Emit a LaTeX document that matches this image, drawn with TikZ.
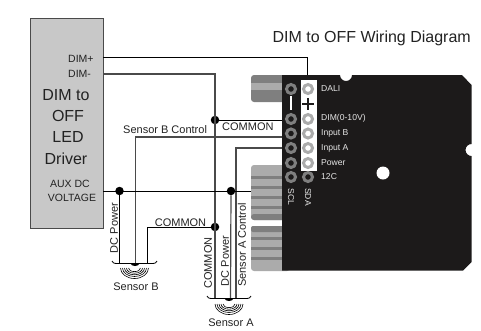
\documentclass[tikz,border=0pt]{standalone}
\usepackage{fontspec}
\setmainfont{Liberation Sans}
\definecolor{boxgray}{HTML}{C8C8C8}
\definecolor{stripedark}{HTML}{7F7F7F}
\definecolor{stripelight}{HTML}{ABABAB}
\definecolor{wiregray}{HTML}{4A4A4A}
\definecolor{txtgray}{HTML}{222222}
\definecolor{boardblack}{HTML}{1C1A1A}
\tikzset{
  wire/.style={draw=black,line width=0.9pt},
  graywire/.style={draw=wiregray,line width=1.2pt},
  joint/.style={circle,fill=black,inner sep=0pt,minimum size=8.5pt},
  label/.style={font=\fontsize{11}{11}\selectfont,text=txtgray,inner sep=0pt},
  biglabel/.style={font=\fontsize{16}{16}\selectfont,text=txtgray,inner sep=0pt},
  boxlabel/.style={font=\fontsize{10.5}{10.5}\selectfont,text=txtgray,inner sep=0pt},
  pinlabel/.style={font=\fontsize{8.6}{8.6}\selectfont,text=white!90!black,inner sep=0pt},
  padblack/.style={circle,draw=stripedark,line width=3pt,fill=boardblack,inner sep=0pt,minimum size=9pt},
  padwhite/.style={circle,draw=stripelight,line width=3pt,fill=white,inner sep=0pt,minimum size=9pt},
  stripe/.style={fill=stripedark,draw=none},
  sensorcup/.style={draw=black,line width=0.8pt},
  wave/.style={draw=black,line width=0.6pt}
}
\begin{document}
\begin{tikzpicture}[x=1pt,y=-1pt]
\useasboundingbox (0,0) rectangle (481,330);

% driver box
\node[draw=wiregray,line width=0.9pt,fill=boxgray,rectangle,minimum width=73pt,minimum height=210pt,inner sep=0pt] (driver) at (66.5,123.5) {};
\node[boxlabel,anchor=west] (dimplus) at (68,59) {DIM+};
\node[boxlabel,anchor=west] (dimminus) at (68,74) {DIM-};
\node[biglabel] (dimto) at (66,95) {DIM to};
\node[biglabel] (off) at (68,116) {OFF};
\node[biglabel] (led) at (68,137) {LED};
\node[biglabel] (drv) at (66,159) {Driver};
\node[boxlabel] (auxdc) at (70,184) {AUX DC};
\node[boxlabel] (voltage) at (72,198) {VOLTAGE};
\node[font=\fontsize{16}{16}\selectfont,text=txtgray,inner sep=0pt,anchor=east] (title) at (471,38) {DIM to OFF Wiring Diagram};

% connector blocks
\fill[stripedark,rounded corners=3pt] (251,75) rectangle (290,102);
\fill[stripelight] (251,83) rectangle (290,90);
\fill[stripelight,rounded corners=3pt] (251,165) rectangle (290,220);
\fill[stripe] (251,176) rectangle (290,178.5);
\fill[stripe] (251,186) rectangle (290,188.5);
\fill[stripe] (251,196) rectangle (290,199);
\fill[stripe] (251,206) rectangle (290,209);
\fill[stripedark,rounded corners=3pt] (251,214) rectangle (290,220);
\fill[stripelight,rounded corners=3pt] (251,226) rectangle (290,271);
\fill[stripedark,rounded corners=2pt] (251,226) rectangle (290,232);
\fill[stripe] (251,237) rectangle (290,240);
\fill[stripe] (251,247) rectangle (290,250);
\fill[stripe] (251,257) rectangle (290,260);

% board
\fill[boardblack] (282,75) -- (340,75) arc (180:0:6) -- (462,75) -- (471.5,85) -- (471.5,144) arc (270:90:6) -- (471.5,262) -- (463,270.5) -- (282,270.5) -- cycle;
\node[circle,fill=white,inner sep=0pt,minimum size=13pt] (hole) at (383,173) {};
\fill[white] (301,80) rectangle (317,171);
\draw[white,line width=1.6pt] (291,96) -- (291,110);
\draw[boardblack,line width=1.2pt] (308,98) -- (308,110);
\draw[boardblack,line width=1.2pt] (302,104) -- (314,104);

% pads
\node[padblack] (scl1) at (291,89) {};
\node[padblack] (scl2) at (291,119) {};
\node[padblack] (scl3) at (291,133.5) {};
\node[padblack] (scl4) at (291,148) {};
\node[padblack] (scl5) at (291,163) {};
\node[padblack] (scl6) at (291,177) {};
\node[padwhite] (sda1) at (308,89) {};
\node[padwhite] (sda2) at (308,119) {};
\node[padwhite] (sda3) at (308,133.5) {};
\node[padwhite] (sda4) at (308,148) {};
\node[padwhite] (sda5) at (308,163) {};
\node[padblack] (sda6) at (308,177) {};

% pin labels
\node[pinlabel,anchor=west] (dali) at (321,89) {DALI};
\node[pinlabel,anchor=west] (dimten) at (321,118) {DIM(0-10V)};
\node[pinlabel,anchor=west] (inb) at (321,133) {Input B};
\node[pinlabel,anchor=west] (ina) at (321,148) {Input A};
\node[pinlabel,anchor=west] (power) at (321,163) {Power};
\node[pinlabel,anchor=west] (twelve) at (321,177) {12C};
\node[pinlabel,rotate=-90] (scl) at (291,197) {SCL};
\node[pinlabel,rotate=-90] (sda) at (308,197) {SDA};

% free ends of the wires
\coordinate (dimpout) at (103,57);
\coordinate (dimpend) at (307,75);
\coordinate (dimmout) at (103,74);
\coordinate (comend) at (282,120);
\coordinate (sbcend) at (282,137);
\coordinate (iaend) at (282,148);
\coordinate (auxout) at (103,191);
\coordinate (auxend) at (251,191);
\coordinate (sbdot) at (135.5,263);
\coordinate (sadot) at (230.5,298);
\coordinate (sbpow) at (119.5,263);
\coordinate (sbcom) at (147,263);
\coordinate (sacom) at (215,298);
\coordinate (sactl) at (236,298);

% junctions
\node[joint] (jcom) at (215,120) {};
\node[joint] (jcomb) at (215,227) {};
\node[joint] (jpowb) at (119.5,191) {};
\node[joint] (jpowa) at (231,191) {};

% wires
\draw[wire] (dimpout) -- (dimpend |- dimpout) -- (dimpend);
\draw[graywire] (dimmout) -- (sacom |- dimmout) -- (sacom);
\draw[wire] (jcom) -- (comend);
\draw[graywire] (sbdot) -- (sbdot |- sbcend) -- (sbcend);
\draw[graywire] (sactl) -- (sactl |- iaend) -- (iaend);
\draw[wire] (auxout) -- (auxend);
\draw[wire] (jpowb) -- (sbpow);
\draw[graywire] (jpowa) -- (sadot);
\draw[wire] (jcomb) -- (sbcom |- jcomb) -- (sbcom);

% wire labels
\node[label,anchor=west] (sbclabel) at (123,130) {Sensor B Control};
\node[label,anchor=west] (comup) at (222,127) {COMMON};
\node[label] (comlow) at (180.5,223) {COMMON};
\node[label,rotate=90] (dcb) at (114,228) {DC Power};
\node[label,rotate=90] (comv) at (208,263) {COMMON};
\node[label,rotate=90] (dca) at (225,261) {DC Power};
\node[label,rotate=90] (sacl) at (242,245) {Sensor A Control};

% sensor B
\draw[sensorcup] (112,261) .. controls (113,263) and (114,263.5) .. (116,263.5) -- (153,263.5) .. controls (155,263.5) and (156,263) .. (157,261);
\fill[black] (130,263) -- (140,263) .. controls (138.5,267) and (131.5,267) .. (130,263) -- cycle;
\draw[wave] (120.5,268) arc (180:0:14 and 10.5);
\draw[wave] (122.5,268) arc (180:0:12 and 8.5);
\draw[wave] (124.5,268) arc (180:0:10 and 6.8);
\draw[wave] (126.5,268) arc (180:0:8 and 5.2);
\draw[wave] (128.5,268) arc (180:0:6 and 3.6);
\node[label] (sensorb) at (136,287) {Sensor B};

% sensor A
\draw[sensorcup] (207,296) .. controls (208,298) and (209,298.5) .. (211,298.5) -- (247,298.5) .. controls (249,298.5) and (250,298) .. (251,296);
\fill[black] (224,298) -- (234,298) .. controls (232.5,302) and (225.5,302) .. (224,298) -- cycle;
\draw[wave] (215,304) arc (180:0:14 and 10.5);
\draw[wave] (217,304) arc (180:0:12 and 8.5);
\draw[wave] (219,304) arc (180:0:10 and 6.8);
\draw[wave] (221,304) arc (180:0:8 and 5.2);
\draw[wave] (223,304) arc (180:0:6 and 3.6);
\node[label] (sensora) at (231,323) {Sensor A};

\end{tikzpicture}
\end{document}
